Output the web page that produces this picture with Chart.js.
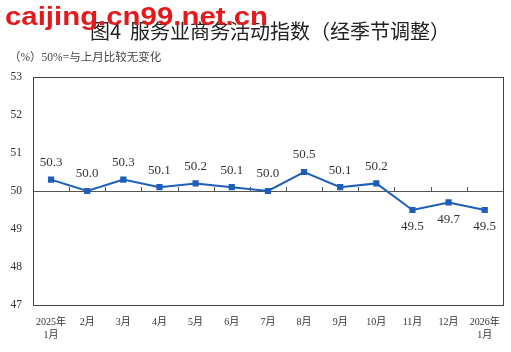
<!DOCTYPE html>
<html>
<head>
<meta charset="utf-8">
<script src="https://cdn.jsdelivr.net/npm/chart.js@4.4.1/dist/chart.umd.min.js"></script>
<style>
html,body{margin:0;padding:0;background:#fff;}
#wrap{width:511px;height:352px;position:relative;}
</style>
</head>
<body>
<div id="wrap"><canvas id="c" width="511" height="352"></canvas></div>
<script>
const titleText = "图4  服务业商务活动指数（经季节调整）";
const subtitleText = "（%）50%=与上月比较无变化";
const watermarkText = "caijing.cn99.net.cn";
const categories = [["2025年","1月"],"2月","3月","4月","5月","6月","7月","8月","9月","10月","11月","12月",["2026年","1月"]];
const values = [50.3, 50.0, 50.3, 50.1, 50.2, 50.1, 50.0, 50.5, 50.1, 50.2, 49.5, 49.7, 49.5];
const labelBelow = [false,false,false,false,false,false,false,false,false,false,true,true,true];
const yMin = 47, yMax = 53, yStep = 1, baseLine = 50;

const serif = '"Liberation Serif","Times New Roman","Noto Sans CJK SC",serif';

const decor = {
  id: 'decor',
  beforeDatasetsDraw(chart) {
    const {ctx, chartArea: a, scales: {x, y}} = chart;
    ctx.save();
    const y50 = y.getPixelForValue(baseLine);
    ctx.strokeStyle = '#555';
    ctx.lineWidth = 1;
    ctx.beginPath();
    for (let i = 0; i < values.length - 1; i++) {
      const bx = Math.round((x.getPixelForValue(i) + x.getPixelForValue(i + 1)) / 2) + 0.5;
      ctx.moveTo(bx, y50);
      ctx.lineTo(bx, y50 - 4);
    }
    ctx.stroke();
    ctx.strokeStyle = '#444';
    ctx.lineWidth = 1;
    ctx.strokeRect(Math.round(a.left) + 0.5, Math.round(a.top) + 0.5, Math.round(a.right - a.left), Math.round(a.bottom - a.top));
    ctx.restore();
  },
  afterDatasetsDraw(chart) {
    const {ctx} = chart;
    const meta = chart.getDatasetMeta(0);
    ctx.save();
    ctx.fillStyle = '#333';
    ctx.font = '13px ' + serif;
    ctx.textAlign = 'center';
    ctx.textBaseline = 'middle';
    meta.data.forEach((pt, i) => {
      const dy = labelBelow[i] ? 17 : -17;
      ctx.fillText(values[i].toFixed(1), pt.x, pt.y + dy);
    });
    ctx.restore();
  },
  afterDraw(chart) {
    const {ctx} = chart;
    ctx.save();
    ctx.fillStyle = '#222';
    ctx.font = '20px "Noto Sans CJK SC", sans-serif';
    ctx.textAlign = 'center';
    ctx.textBaseline = 'middle';
    ctx.fillText(titleText, 270, 31);
    ctx.fillStyle = '#444';
    ctx.font = '11.5px ' + serif;
    ctx.textAlign = 'left';
    ctx.fillText(subtitleText, 9, 58);
    ctx.fillStyle = '#e3191c';
    ctx.font = 'bold 26px "Liberation Sans", Arial, sans-serif';
    ctx.textBaseline = 'alphabetic';
    const w = ctx.measureText(watermarkText).width;
    ctx.translate(5, 25);
    ctx.scale(263 / w, 1);
    ctx.fillText(watermarkText, 0, 0);
    ctx.restore();
  }
};

new Chart(document.getElementById('c'), {
  type: 'line',
  data: {
    labels: categories,
    datasets: [{
      data: values,
      borderColor: '#1c5fba',
      backgroundColor: '#1c5fba',
      borderWidth: 2,
      pointStyle: 'rect',
      pointRadius: 3,
      pointHoverRadius: 3,
      tension: 0,
      fill: false
    }]
  },
  options: {
    responsive: false,
    animation: false,
    events: [],
    layout: {padding: {top: 77, right: 7, left: 0, bottom: 0}},
    plugins: {legend: {display: false}, tooltip: {enabled: false}, title: {display: false}},
    scales: {
      x: {
        offset: true,
        grid: {display: false, drawTicks: false},
        border: {display: false},
        ticks: {
          color: '#333',
          font: {family: serif, size: 10, lineHeight: 1.3},
          padding: 11,
          maxRotation: 0,
          autoSkip: false
        },
        afterFit(s) { s.height = 47; }
      },
      y: {
        min: yMin, max: yMax,
        grid: {
          drawTicks: false,
          color: (c) => (c.tick && c.tick.value === baseLine) ? '#555' : 'rgba(0,0,0,0)',
          lineWidth: 1
        },
        border: {display: false},
        ticks: {
          stepSize: yStep,
          color: '#333',
          font: {family: serif, size: 11.5},
          padding: 11
        },
        afterFit(s) { s.width = 33; }
      }
    }
  },
  plugins: [decor]
});
</script>
</body>
</html>
